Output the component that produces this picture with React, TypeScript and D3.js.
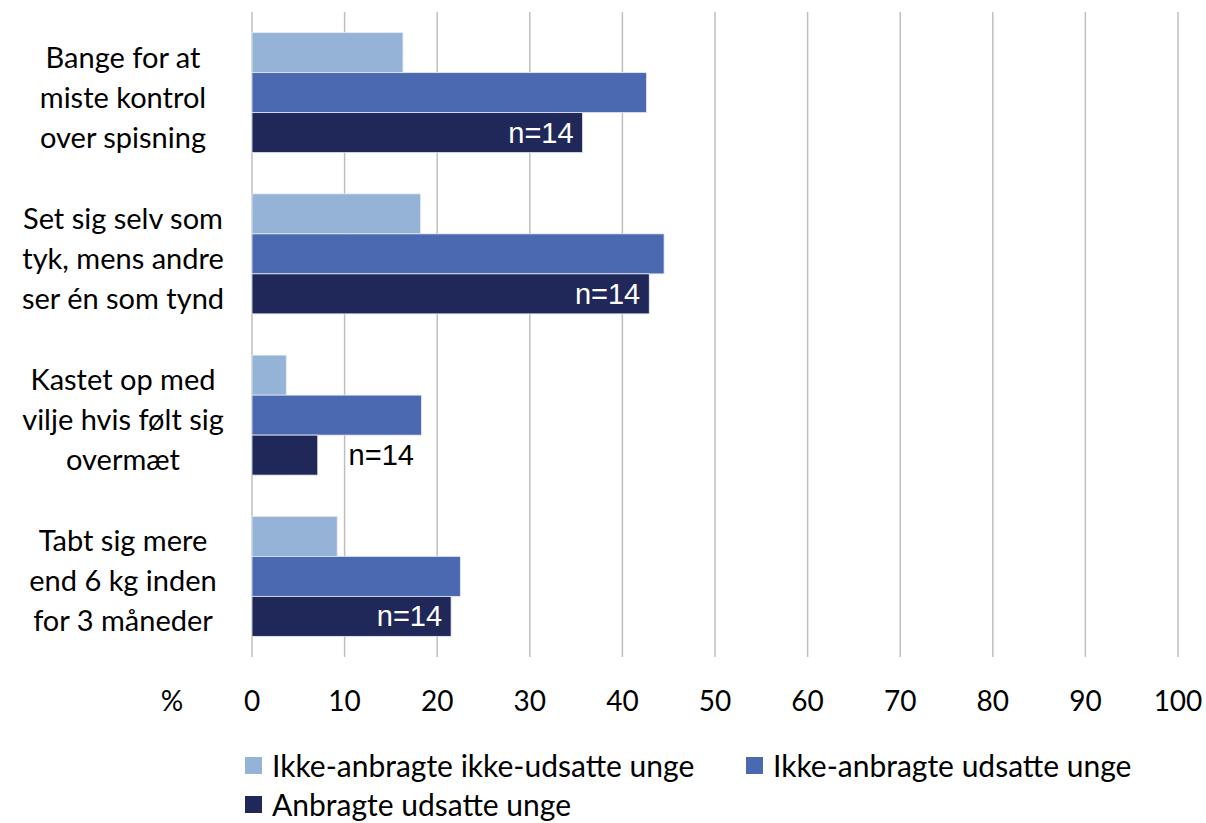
import React from "react";
import * as d3 from "d3";

const categories: string[][] = [
  ["Bange for at", "miste kontrol", "over spisning"],
  ["Set sig selv som", "tyk, mens andre", "ser én som tynd"],
  ["Kastet op med", "vilje hvis følt sig", "overmæt"],
  ["Tabt sig mere", "end 6 kg inden", "for 3 måneder"],
];
const seriesNames = [
  "Ikke-anbragte ikke-udsatte unge",
  "Ikke-anbragte udsatte unge",
  "Anbragte udsatte unge",
];
const lightValues = [16.3, 18.2, 3.7, 9.2];
const mediumValues = [42.6, 44.5, 18.3, 22.5];
const darkValues = [35.7, 42.9, 7.1, 21.5];
const nLabels = ["n=14", "n=14", "n=14", "n=14"];
const nInside = [true, true, false, true];
const ticks = [0, 10, 20, 30, 40, 50, 60, 70, 80, 90, 100];
const colors = ["#95B3D7", "#4A69B0", "#1F2858"];

const W = 1206;
const H = 823;
const FONT = "Lato, 'Open Sans', sans-serif";

export default function App() {
  const x = d3.scaleLinear().domain([0, 100]).range([252, 1178]);
  const keys = categories.map((c) => c.join(" "));
  const y = d3
    .scaleBand<string>()
    .domain(keys)
    .range([12, 657])
    .paddingInner(0.256)
    .paddingOuter(0.128);
  const inner = d3
    .scaleBand<number>()
    .domain([0, 1, 2])
    .range([0, y.bandwidth()]);
  const series = [lightValues, mediumValues, darkValues];

  return (
    <svg
      width={W}
      height={H}
      style={{ position: "absolute", left: 0, top: 0, background: "#fff" }}
      fontFamily={FONT}
    >
      {ticks.map((t) => (
        <g key={t}>
          <line
            x1={x(t)}
            x2={x(t)}
            y1={12}
            y2={657}
            stroke="#BFBFBF"
            strokeWidth={1.5}
          />
          <text
            x={x(t)}
            y={711}
            textAnchor="middle"
            fontSize={28}
            fill="#000"
          >
            {t}
          </text>
        </g>
      ))}
      <text x={172} y={711} textAnchor="middle" fontSize={28} fill="#000">
        %
      </text>

      {series.map((vals, si) =>
        vals.map((v, ci) => (
          <rect
            key={`${si}-${ci}`}
            x={x(0)}
            y={(y(keys[ci]) as number) + (inner(si) as number)}
            width={x(v) - x(0)}
            height={inner.bandwidth()}
            fill={colors[si]}
            stroke="#E4EAF5"
            strokeWidth={0.8}
          />
        ))
      )}

      {darkValues.map((v, ci) => {
        const yb = (y(keys[ci]) as number) + (inner(2) as number) + inner.bandwidth() / 2 + 10;
        return nInside[ci] ? (
          <text
            key={ci}
            x={x(v) - 9}
            y={yb}
            textAnchor="end"
            fontSize={29}
            fontFamily="'Liberation Sans', Arial, sans-serif"
            fill="#fff"
          >
            {nLabels[ci]}
          </text>
        ) : (
          <text
            key={ci}
            x={x(10) + 4}
            y={yb}
            textAnchor="start"
            fontSize={29}
            fontFamily="'Liberation Sans', Arial, sans-serif"
            fill="#000"
          >
            {nLabels[ci]}
          </text>
        );
      })}

      {categories.map((lines, ci) => {
        const cy = (y(keys[ci]) as number) + y.bandwidth() / 2 + 5;
        return (
          <text key={ci} textAnchor="middle" fontSize={29} fill="#000">
            {lines.map((l, li) => (
              <tspan key={li} x={123} y={cy + (li - 1) * 40 + 10}>
                {l}
              </tspan>
            ))}
          </text>
        );
      })}

      {seriesNames.map((name, i) => {
        const lx = i === 1 ? 746 : 245;
        const ly = i === 2 ? 796 : 757;
        return (
          <g key={name}>
            <rect x={lx} y={ly} width={17} height={17} fill={colors[i]} />
            <text x={lx + 27} y={ly + 20} fontSize={30} fill="#000">
              {name}
            </text>
          </g>
        );
      })}
    </svg>
  );
}
